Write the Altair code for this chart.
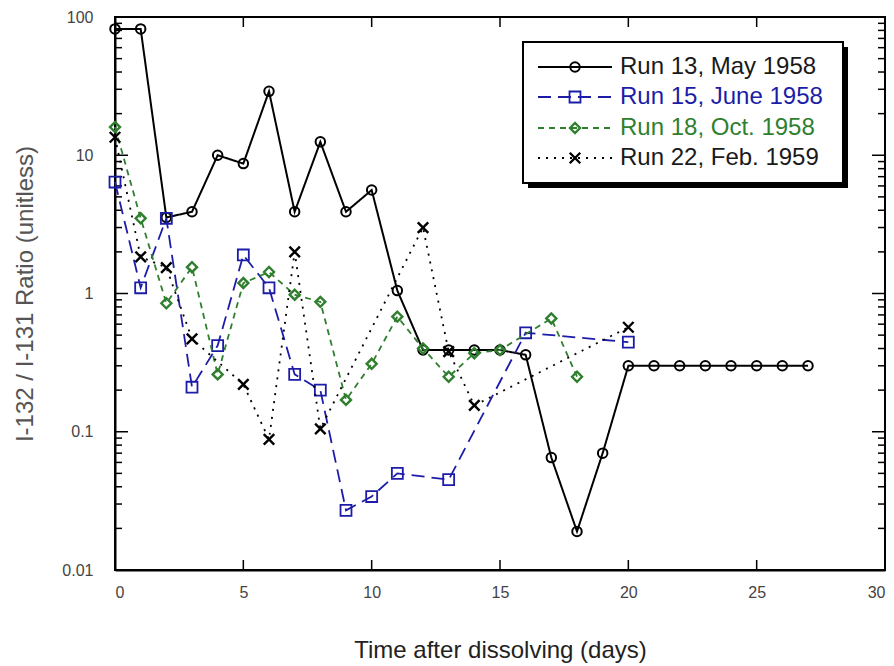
import altair as alt
import pandas as pd

# ---- data ----
run13_x = list(range(0, 28))
run13_y = [82, 82, 3.55, 3.9, 10, 8.7, 29, 3.9, 12.5, 3.9, 5.6, 1.05, 0.39, 0.39,
           0.39, 0.39, 0.36, 0.065, 0.019, 0.07, 0.30, 0.30, 0.30, 0.30, 0.30,
           0.30, 0.30, 0.30]

run15_x = [0, 1, 2, 3, 4, 5, 6, 7, 8, 9, 10, 11, 13, 16, 20]
run15_y = [6.4, 1.1, 3.5, 0.21, 0.42, 1.9, 1.1, 0.26, 0.2, 0.027, 0.034, 0.05,
           0.045, 0.52, 0.445]

run18_x = [0, 1, 2, 3, 4, 5, 6, 7, 8, 9, 10, 11, 12, 13, 14, 15, 17, 18]
run18_y = [16, 3.5, 0.85, 1.55, 0.26, 1.19, 1.43, 0.98, 0.87, 0.17, 0.31, 0.68,
           0.40, 0.25, 0.37, 0.39, 0.66, 0.25]

run22_x = [0, 1, 2, 3, 5, 6, 7, 8, 12, 13, 14, 20]
run22_y = [13.5, 1.84, 1.54, 0.47, 0.22, 0.088, 2.0, 0.105, 3.0, 0.38, 0.155, 0.57]

series_names = ["Run 13, May 1958", "Run 15, June 1958", "Run 18, Oct. 1958",
                "Run 22, Feb. 1959"]

x_ticks = [5, 10, 15, 20, 25]
x_labels = [0, 5, 10, 15, 20, 25, 30]
y_major = [0.1, 1, 10]
y_labels = [0.01, 0.1, 1, 10, 100]
y_minor = [m * d for d in (0.01, 0.1, 1, 10) for m in range(2, 10)]

# ---- styling ----
W, H = 770, 553
BLACK = "#000000"
BLUE = "#1c1ca8"
GREEN = "#2f7f2f"
FONT = "Liberation Sans"
XSHAPE = "M-1,-1L1,1M1,-1L-1,1"

styles = [
    dict(color=BLACK, dash=[1, 0], shape="circle", size=90, sw=2.0, lw=2.0),
    dict(color=BLUE, dash=[13, 7], shape="square", size=120, sw=1.8, lw=1.8),
    dict(color=GREEN, dash=[6, 5], shape="diamond", size=100, sw=2.4, lw=1.8),
    dict(color=BLACK, dash=[2, 6], shape=XSHAPE, size=110, sw=2.4, lw=1.8),
]
series_data = [(run13_x, run13_y), (run15_x, run15_y), (run18_x, run18_y),
               (run22_x, run22_y)]

xs = alt.Scale(domain=[0, 30], nice=False)
ys = alt.Scale(type="log", domain=[0.01, 100], nice=False)

x_axis = alt.Axis(values=x_labels, title="Time after dissolving (days)",
                  ticks=False, tickSize=0, domain=True, domainColor=BLACK,
                  domainWidth=2, grid=False,
                  labelPadding=14, labelFontSize=16, labelColor="#444",
                  labelFont=FONT, titleFont=FONT, titleFontSize=24,
                  titleFontWeight="normal", titleColor="#222",
                  titlePadding=38)
y_axis = alt.Axis(values=y_labels, format="~g",
                  title="I-132 / I-131 Ratio (unitless)",
                  ticks=False, tickSize=0, domain=True, domainColor=BLACK,
                  domainWidth=2, grid=False,
                  labelPadding=22, labelFontSize=16, labelColor="#444",
                  labelFont=FONT, titleFont=FONT, titleFontSize=24,
                  titleFontWeight="normal", titleColor="#555",
                  titlePadding=24)


def X(field="x"):
    return alt.X(f"{field}:Q", scale=xs, axis=x_axis)


def Y(field="y"):
    return alt.Y(f"{field}:Q", scale=ys, axis=y_axis)


layers = []

# frame (top and right edges)
one = alt.Data(values=[{"a": 1}])
layers.append(alt.Chart(one).mark_rect(fill=None, stroke=BLACK,
                                       strokeWidth=2).encode(
    x=alt.value(0), x2=alt.value(W), y=alt.value(0), y2=alt.value(H)))

# tick marks (inward)
xt = pd.DataFrame({"x": x_ticks})
for y0, y1 in ((H, H - 10), (0, 10)):
    layers.append(alt.Chart(xt).mark_rule(color=BLACK, strokeWidth=1.5).encode(
        x=X(), y=alt.value(y0), y2=alt.value(y1)))
ymaj = pd.DataFrame({"y": y_major})
ymin = pd.DataFrame({"y": y_minor})
for df, ln in ((ymaj, 13), (ymin, 7)):
    for x0, x1 in ((0, ln), (W - ln, W)):
        layers.append(alt.Chart(df).mark_rule(color=BLACK, strokeWidth=1.5).encode(
            y=Y(), x=alt.value(x0), x2=alt.value(x1)))

# series
for (sx, sy), st, name in zip(series_data, styles, series_names):
    df = pd.DataFrame({"x": sx, "y": sy, "series": name})
    base = alt.Chart(df).encode(x=X(), y=Y())
    layers.append(base.mark_line(color=st["color"], strokeDash=st["dash"],
                                 strokeWidth=st["lw"]))
    layers.append(base.mark_point(shape=st["shape"], size=st["size"],
                                  color=st["color"], filled=False,
                                  strokeWidth=st["sw"], opacity=1))

# manual legend
LX0, LX1, LY0, LY1 = 408, 728, 25, 166
layers.append(alt.Chart(one).mark_rect(color=BLACK).encode(
    x=alt.value(LX0 + 5), x2=alt.value(LX1 + 5),
    y=alt.value(LY0 + 5), y2=alt.value(LY1 + 5)))
layers.append(alt.Chart(one).mark_rect(fill="white", stroke=BLACK,
                                       strokeWidth=2).encode(
    x=alt.value(LX0), x2=alt.value(LX1), y=alt.value(LY0), y2=alt.value(LY1)))
row_y = [50, 80, 111, 141]
text_colors = ["#1a1a1a", BLUE, GREEN, "#1a1a1a"]
for st, name, ry, tc in zip(styles, series_names, row_y, text_colors):
    layers.append(alt.Chart(one).mark_rule(color=st["color"],
                                           strokeDash=st["dash"],
                                           strokeWidth=st["lw"]).encode(
        x=alt.value(423), x2=alt.value(497), y=alt.value(ry)))
    layers.append(alt.Chart(one).mark_point(shape=st["shape"], size=st["size"],
                                            color=st["color"], filled=False,
                                            strokeWidth=st["sw"],
                                            opacity=1).encode(
        x=alt.value(460), y=alt.value(ry)))
    layers.append(alt.Chart(one).mark_text(text=name, align="left",
                                           baseline="middle", font=FONT,
                                           fontSize=24, color=tc).encode(
        x=alt.value(505), y=alt.value(ry)))

chart = alt.layer(*layers).properties(
    width=W, height=H,
    autosize=alt.AutoSizeParams(type="none"),
    padding={"left": 107, "top": 9, "right": 1, "bottom": 95},
    background="white",
).configure_view(stroke=BLACK, strokeWidth=2)

chart.save("out.html", embed_options={"renderer": "svg", "actions": False})
